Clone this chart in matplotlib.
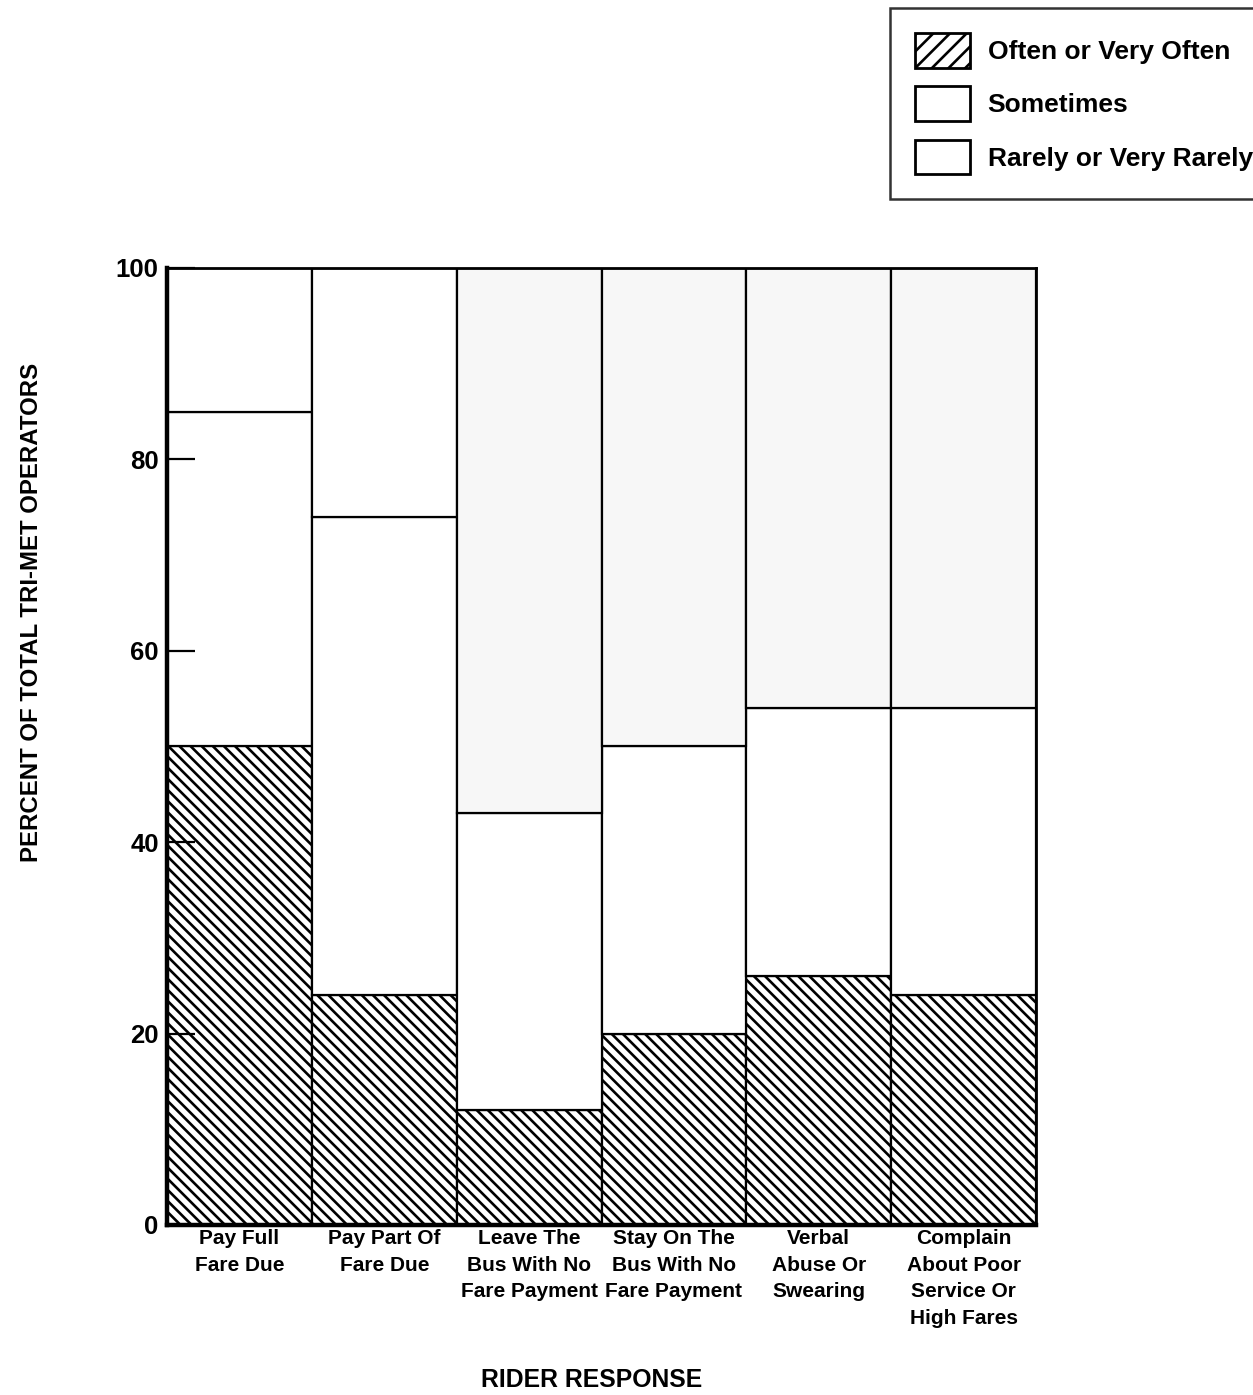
import matplotlib
matplotlib.use("Agg")
import matplotlib.pyplot as plt
from matplotlib.patches import Patch
import numpy as np

# data (percent of operators)
categories = ["Pay Full\nFare Due", "Pay Part Of\nFare Due", "Leave The\nBus With No\nFare Payment",
              "Stay On The\nBus With No\nFare Payment", "Verbal\nAbuse Or\nSwearing",
              "Complain\nAbout Poor\nService Or\nHigh Fares"]
often = [50, 24, 12, 20, 26, 24]
sometimes = [35, 50, 31, 30, 28, 30]
rarely = [15, 26, 57, 50, 46, 46]
top_shade = ["white", "white", "#f7f7f7", "#f7f7f7", "#f7f7f7", "#f7f7f7"]

plt.rcParams["font.family"] = ["Liberation Sans", "DejaVu Sans"]
plt.rcParams["font.weight"] = "bold"
plt.rcParams["hatch.linewidth"] = 1.9

fig = plt.figure(figsize=(12.53, 13.95), dpi=100)
ax = fig.add_axes([0.1333, 0.1219, 0.6935, 0.686])

x = np.arange(len(categories))
ax.bar(x, often, width=1.0, color="white", edgecolor="black", linewidth=1.6, hatch="\\\\\\")
ax.bar(x, sometimes, width=1.0, bottom=often, color="white", edgecolor="black", linewidth=1.6)
bottom2 = [a + b for a, b in zip(often, sometimes)]
ax.bar(x, rarely, width=1.0, bottom=bottom2, color=top_shade, edgecolor="black", linewidth=1.6)

ax.set_xlim(-0.5, len(categories) - 0.5)
ax.set_ylim(0, 100)
ax.set_yticks([0, 20, 40, 60, 80, 100])
ax.tick_params(axis="y", direction="in", length=20, width=1.6, pad=6, labelsize=18.5)
ax.set_xticks(x)
ax.set_xticklabels(categories, fontsize=15, linespacing=1.5)
ax.tick_params(axis="x", length=0, pad=3)

for side in ["left", "bottom"]:
    ax.spines[side].set_linewidth(3.2)
for side in ["top", "right"]:
    ax.spines[side].set_linewidth(2.0)

fig.text(0.025, 0.561, "PERCENT OF TOTAL TRI-MET OPERATORS", rotation=90,
         ha="center", va="center", fontsize=17.3, fontweight="bold")
fig.text(0.472, 0.006, "RIDER RESPONSE", ha="center", va="baseline",
         fontsize=17.8, fontweight="bold")

handles = [Patch(facecolor="white", edgecolor="black", hatch="//", linewidth=2.0),
           Patch(facecolor="white", edgecolor="black", linewidth=2.0),
           Patch(facecolor="white", edgecolor="black", linewidth=2.0)]
labels = ["Often or Very Often", "Sometimes", "Rarely or Very Rarely"]
leg = fig.legend(handles, labels, loc="upper left", bbox_to_anchor=(890 / 1253, 1 - 8 / 1395),
                 fontsize=19, frameon=True, fancybox=False, edgecolor="black",
                 handlelength=2.1, handleheight=1.65, handletextpad=0.65,
                 labelspacing=0.70, borderpad=0.95, borderaxespad=0)
leg.get_frame().set_linewidth(1.8)

fig.savefig("out.png", dpi=100)
